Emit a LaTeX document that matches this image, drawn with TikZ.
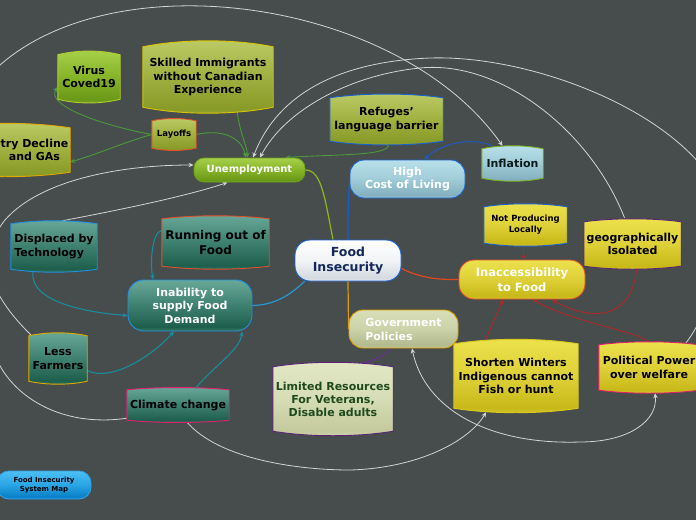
\documentclass[tikz,border=0pt]{standalone}
\usepackage{fontspec}
\setmainfont{DejaVu Sans}
\usetikzlibrary{calc,arrows.meta}
\pgfdeclarelayer{bg}
\pgfdeclarelayer{edges}
\pgfdeclarelayer{shapes}
\pgfsetlayers{bg,edges,shapes,main}
\definecolor{bgc}{HTML}{474C4D}
\newcommand\mkshade[5]{%
 \definecolor{#1T}{HTML}{#2}\definecolor{#1M}{HTML}{#3}%
 \definecolor{#1D}{HTML}{#4}\definecolor{#1B}{HTML}{#5}%
 \pgfdeclareverticalshading{sh#1}{100bp}{color(0bp)=(#1B); color(25bp)=(#1B); color(29bp)=(#1D); color(50bp)=(#1M); color(75bp)=(#1T); color(100bp)=(#1T)}}
\mkshade{ol}{BCCB66}{A0B040}{889A28}{98A838}
\mkshade{gr}{A6D04A}{86B428}{6A9818}{7AAA24}
\mkshade{lb}{B8E0EA}{A0CCD8}{84B0C0}{98C4D2}
\mkshade{ye}{ECE24C}{DED038}{C8B818}{D8CA30}
\mkshade{te}{68A898}{3E8070}{1E5E4C}{3A7C68}
\mkshade{wh}{FFFFFF}{F2F4F6}{D4DAE2}{E8ECF0}
\mkshade{gv}{D8DEB8}{CCD2A8}{B4BA90}{C4CAA0}
\mkshade{lm}{E2E8C4}{D6DCB4}{C4CA9C}{D2D8AE}
\mkshade{bl}{4CC0F4}{2AA4E4}{0A80C8}{1A94D8}
\definecolor{virB}{HTML}{B0CC30}
\definecolor{skB}{HTML}{D8C400}
\definecolor{layB}{HTML}{E0502A}
\definecolor{indB}{HTML}{E0A800}
\definecolor{unB}{HTML}{6A9E1E}
\definecolor{blueB}{HTML}{1A62D0}
\definecolor{infB}{HTML}{7AB020}
\definecolor{purB}{HTML}{5A2478}
\definecolor{redB}{HTML}{E0502A}
\definecolor{tealB}{HTML}{2090E0}
\definecolor{pinkB}{HTML}{E0206E}
\definecolor{orB}{HTML}{E0A000}
\definecolor{swB}{HTML}{D8C820}
\definecolor{legB}{HTML}{30A0E0}
\definecolor{inkD}{HTML}{0A1A1A}
\definecolor{navy}{HTML}{14285A}
\definecolor{dkgreen}{HTML}{1E4A1E}
\definecolor{edW}{HTML}{D4D4D4}
\definecolor{edG}{HTML}{4C9A3A}
\definecolor{edT}{HTML}{1A8C9C}
\definecolor{edR}{HTML}{B02828}
\definecolor{edP}{HTML}{6A2A9A}
\definecolor{edB}{HTML}{1A5CC8}
\definecolor{fiG}{HTML}{8CB820}
\definecolor{fiO}{HTML}{D89A10}
\definecolor{fiR}{HTML}{E0481E}
\definecolor{fiT}{HTML}{2A98D0}
\newcommand\mybarrel[4]{%
 \begin{pgfonlayer}{shapes}
 \path[shade, shading=#2, draw=#3, line width=0.9pt]
  (#1.north west) .. controls ($(#1.north west)!0.3!(#1.north east)+(0,-#4)$) and ($(#1.north west)!0.7!(#1.north east)+(0,-#4)$) .. (#1.north east)
  -- (#1.south east) .. controls ($(#1.south west)!0.7!(#1.south east)+(0,#4)$) and ($(#1.south west)!0.3!(#1.south east)+(0,#4)$) .. (#1.south west) -- cycle;
 \end{pgfonlayer}}
\begin{document}
\begin{tikzpicture}[x=1pt,y=-1pt,
 txt/.style={font=\bfseries\fontsize{11}{13.5}\selectfont, align=center, inner sep=0pt, text=black},
 pill/.style={draw=#1, line width=0.9pt},
 arr/.style={-{Stealth[length=5pt,width=4.5pt]}},
 wE/.style={draw=edW, line width=0.8pt},
 gE/.style={draw=edG, line width=0.9pt},
 tE/.style={draw=edT, line width=1.1pt},
 rE/.style={draw=edR, line width=0.9pt}]
\begin{pgfonlayer}{bg}
\fill[bgc] (0,0) rectangle (696,520);
\end{pgfonlayer}
\useasboundingbox (0,0) rectangle (696,520);

% nodes
\node[txt, minimum width=62pt, minimum height=44pt] (vir) at (89,77) {Virus\\Coved19};
\node[txt, minimum width=130pt, minimum height=60pt] (sk) at (208,77) {Skilled Immigrants\\without Canadian\\Experience};
\node[txt, font=\bfseries\fontsize{8.5}{10}\selectfont, minimum width=44pt, minimum height=27pt] (lay) at (174,134.5) {Layoffs};
\node[txt, minimum width=130pt, minimum height=44pt] (ind) at (5,150) {};
\node[txt] (indt) at (34.5,150) {try Decline\\and GAs};
\node[txt, text=white, font=\bfseries\fontsize{10}{12}\selectfont, minimum width=111pt, minimum height=24pt, pill=unB, rounded corners=10pt, shade, shading=shgr] (un) at (249.5,170) {Unemployment};
\node[txt, minimum width=113pt, minimum height=43pt] (ref) at (386.5,119.5) {Refuges'\\language barrier};
\node[txt, text=white, minimum width=115pt, minimum height=38pt, pill=blueB, rounded corners=14pt, shade, shading=shlb] (hcl) at (407.5,179) {High\\Cost of Living};
\node[txt, text=inkD, minimum width=61pt, minimum height=29pt] (inf) at (512.5,163.5) {Inflation};
\node[txt, font=\bfseries\fontsize{8.5}{11}\selectfont, minimum width=83pt, minimum height=36pt] (np) at (525.5,225) {Not Producing\\Locally};
\node[txt, minimum width=97pt, minimum height=44pt] (geo) at (632.5,244) {geographically\\Isolated};
\node[txt, text=white, font=\bfseries\fontsize{11.5}{14.5}\selectfont, minimum width=126pt, minimum height=39pt, pill=redB, rounded corners=15pt, shade, shading=shye] (inac) at (522,279.5) {Inaccessibility\\to Food};
\node[txt, text=navy, font=\bfseries\fontsize{12.5}{15}\selectfont, minimum width=106pt, minimum height=41pt, pill=blueB, rounded corners=15pt, shade, shading=shwh] (fi) at (348,260.5) {Food\\Insecurity};
\node[txt, font=\bfseries\fontsize{12}{14.5}\selectfont, minimum width=107pt, minimum height=47pt] (run) at (215.5,242.5) {Running out of\\Food};
\node[txt, align=left, minimum width=86pt, minimum height=45pt] (dis) at (54,246.5) {Displaced by\\Technology};
\node[txt, text=white, minimum width=124pt, minimum height=51pt, pill=tealB, rounded corners=16pt, shade, shading=shte] (inab) at (190,305.5) {Inability to\\supply Food\\Demand};
\node[txt, minimum width=58pt, minimum height=45pt] (lf) at (58,358.5) {Less\\Farmers};
\node[txt, minimum width=102pt, minimum height=30pt] (cc) at (178,405) {Climate change};
\node[txt, text=white, align=left, font=\bfseries\fontsize{11}{14}\selectfont, minimum width=109pt, minimum height=38pt, pill=orB, rounded corners=14pt, shade, shading=shgv] (gov) at (403.5,329) {Government\\Policies};
\node[txt, text=dkgreen, font=\bfseries\fontsize{11}{13}\selectfont, minimum width=120pt, minimum height=64pt] (lim) at (333,399) {Limited Resources\\For Veterans,\\Disable adults};
\node[txt, minimum width=124pt, minimum height=64pt] (sw) at (516,376) {Shorten Winters\\Indigenous cannot\\Fish or hunt};
\node[txt, font=\bfseries\fontsize{11}{14}\selectfont, minimum width=100pt, minimum height=45pt] (pp) at (649,367.5) {Political Power\\over welfare};
\node[txt, font=\bfseries\fontsize{7}{9}\selectfont, minimum width=94pt, minimum height=28pt, pill=legB, rounded corners=12pt, shade, shading=shbl] (leg) at (44,485) {Food Insecurity\\System Map};

\mybarrel{vir}{shgr}{virB}{5}
\mybarrel{sk}{shol}{skB}{8}
\mybarrel{lay}{shol}{layB}{3}
\mybarrel{ind}{shol}{indB}{6}
\mybarrel{ref}{shol}{blueB}{5}
\mybarrel{inf}{shlb}{infB}{4}
\mybarrel{np}{shye}{blueB}{4}
\mybarrel{geo}{shye}{purB}{4}
\mybarrel{run}{shte}{redB}{4}
\mybarrel{dis}{shte}{tealB}{4}
\mybarrel{lf}{shte}{indB}{4}
\mybarrel{cc}{shte}{pinkB}{3}
\mybarrel{lim}{shlm}{purB}{6}
\mybarrel{sw}{shye}{swB}{6}
\mybarrel{pp}{shye}{pinkB}{4}

\begin{pgfonlayer}{edges}
% green
\draw[gE, arr] (lay.east) .. controls (225,128) and (243,140) .. ([xshift=-4pt]un.north);
\draw[gE, arr] ($(sk.south)+(29,3)$) .. controls (240,135) and (247,145) .. ([xshift=-2pt]un.north);
\draw[gE, arr] (lay.west) .. controls (100,125) and (45,105) .. ([yshift=-10pt]vir.west);
\draw[gE, arr] (lay.west) .. controls (125,142) and (95,155) .. ([yshift=-12pt]ind.east);
\draw[gE, arr] ($(ref.south)+(2,3)$) .. controls (390,156) and (340,154) .. ([xshift=36pt]un.north);
% white
\draw[wE, arr] ($(pp.north east)+(-14,-1)$) .. controls (705,320) and (740,240) .. (705,170) .. controls (650,100) and (520,55) .. (430,58) .. controls (330,62) and (275,100) .. ([xshift=3.5pt]un.north);
\draw[wE, arr] ($(geo.north)+(-8,-4)$) .. controls (590,130) and (500,60) .. (420,68) .. controls (350,75) and (285,110) .. ([xshift=10.5pt]un.north);
\draw[wE, arr] ($(cc.south west)+(0,-2)$) .. controls (60,428) and (10,395) .. (-5,355) .. controls (-60,230) and (-50,110) .. (0,65) .. controls (120,-40) and (400,0) .. ($(inf.north)+(-10,-3)$);
\draw[wE, arr] ($(lf.north west)+(2,-1)$) .. controls (-25,280) and (-15,245) .. (5,220) .. controls (40,180) and (120,165) .. ([yshift=5pt]un.west);
\draw[wE, arr] ($(dis.north)+(8,-3)$) .. controls (130,208) and (190,195) .. ([xshift=-22pt]un.south);
\draw[wE, arr] ($(cc.south)+(9,2)$) .. controls (220,460) and (300,470) .. (350,470) .. controls (420,468) and (470,440) .. ($(sw.south)+(-30,4)$);
\draw[wE, {Stealth[length=5pt,width=4.5pt]}-{Stealth[length=5pt,width=4.5pt]}] ($(gov.south)+(8.5,0)$) .. controls (425,410) and (490,445) .. (580,442) .. controls (630,442) and (658,420) .. ($(pp.south)+(6,3)$);
% teal
\draw[tE, arr] ([yshift=12pt]run.west) .. controls (152,232) and (150,262) .. ([xshift=-37pt]inab.north);
\draw[tE, arr] ($(dis.south west)+(22,3)$) .. controls (30,300) and (80,312) .. ([yshift=-10pt]inab.west);
\draw[tE, arr] ($(lf.east)+(0,12)$) .. controls (110,382) and (150,358) .. ([xshift=-16pt]inab.south);
\draw[tE, arr] ($(cc.north)+(17,-1)$) .. controls (215,365) and (240,350) .. ([xshift=52pt]inab.south);
% red
\draw[rE, arr] ($(np.south)+(-2,3)$) -- ([xshift=1.5pt]inac.north);
\draw[rE, arr] ($(geo.south)+(4,3)$) .. controls (632,320) and (590,322) .. ([xshift=30pt]inac.south);
\draw[rE, arr] ($(pp.north)+(-2,-3)$) .. controls (645,333) and (570,322) .. ([xshift=11pt]inac.south);
\draw[rE, arr] ($(sw.north)+(-31,-3)$) -- ([xshift=-19pt]inac.south);
% purple
\draw[draw=edP, line width=0.9pt] ($(lim.north)+(30,-4)$) .. controls (375,360) and (385,356) .. ([xshift=-13pt]gov.south);
% blue
\draw[draw=edB, line width=0.9pt, arr] ($(inf.north west)+(10,-3)$) .. controls (470,136) and (438,145) .. ([xshift=17pt]hcl.north);
% Food Insecurity branches
\draw[draw=fiG, line width=1.2pt] ([xshift=-15pt]fi.north) .. controls (325,200) and (322,170) .. (un.east);
\draw[draw=edB, line width=1.2pt] ([yshift=-4pt]hcl.west) .. controls (348,200) and (348,225) .. (fi.north);
\draw[draw=fiO, line width=1.2pt] (fi.south) -- (gov.west);
\draw[draw=fiR, line width=1.2pt] ([yshift=-8pt]fi.east) .. controls (420,278) and (440,280) .. (inac.west);
\draw[draw=fiT, line width=1.2pt] ($(fi.south west)+(10,0)$) .. controls (290,295) and (275,305) .. (inab.east);
\end{pgfonlayer}
\end{tikzpicture}
\end{document}
